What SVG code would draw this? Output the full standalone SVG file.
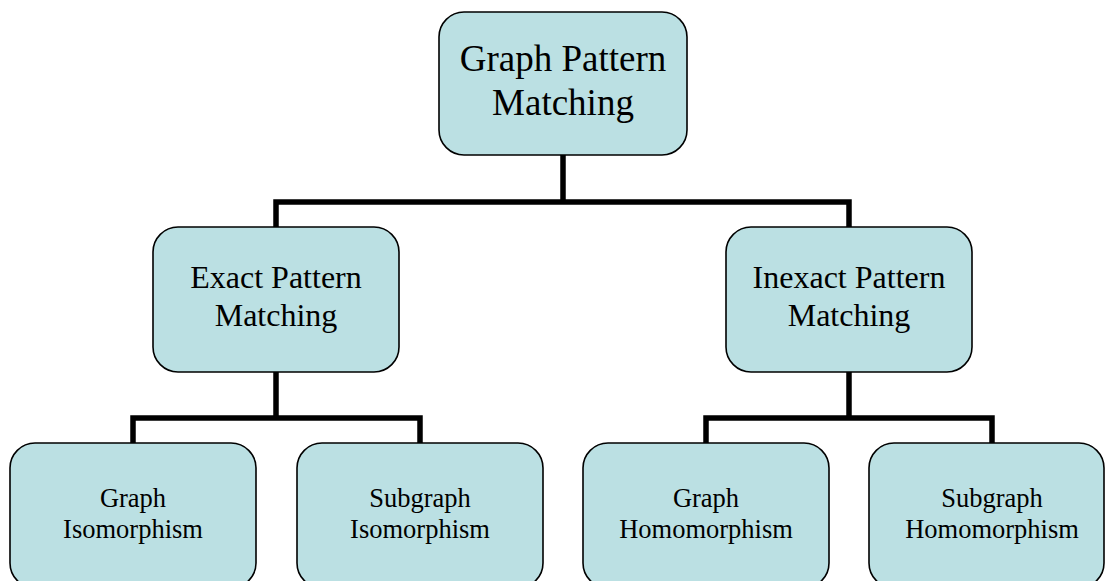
<svg xmlns="http://www.w3.org/2000/svg" width="1107" height="581" viewBox="0 0 1107 581">
<style>
.box{fill:#BBE0E3;stroke:#000;stroke-width:1.6}
.t{font-family:"Liberation Serif","Times New Roman",serif;fill:#000;text-anchor:middle}
.l1{font-size:37px}
.l2{font-size:32px}
.l3{font-size:26.5px}
.c{fill:none;stroke:#000;stroke-width:5.5;stroke-linecap:butt;stroke-linejoin:miter}
</style>
<rect width="1107" height="581" fill="#fff"/>
<g id="connectors">
<path class="c" d="M563,155 V202 M276,227 V202 H849 V227"/>
<path class="c" d="M276,372 V418 M133,443 V418 H420 V443"/>
<path class="c" d="M849,372 V418 M706,443 V418 H992 V443"/>
</g>
<g id="n-root">
<rect class="box" x="439" y="12" width="248" height="143" rx="25"/>
<text class="t l1" x="563" y="71">Graph Pattern</text>
<text class="t l1" x="563" y="115">Matching</text>
</g>
<g id="n-exact">
<rect class="box" x="153" y="227" width="246" height="145" rx="25"/>
<text class="t l2" x="276" y="288">Exact Pattern</text>
<text class="t l2" x="276" y="326">Matching</text>
</g>
<g id="n-inexact">
<rect class="box" x="726" y="227" width="246" height="145" rx="25"/>
<text class="t l2" x="849" y="288">Inexact Pattern</text>
<text class="t l2" x="849" y="326">Matching</text>
</g>
<g id="n-graph-iso">
<rect class="box" x="10" y="443" width="246" height="145" rx="25"/>
<text class="t l3" x="133" y="507">Graph</text>
<text class="t l3" x="133" y="538">Isomorphism</text>
</g>
<g id="n-subgraph-iso">
<rect class="box" x="297" y="443" width="246" height="145" rx="25"/>
<text class="t l3" x="420" y="507">Subgraph</text>
<text class="t l3" x="420" y="538">Isomorphism</text>
</g>
<g id="n-graph-homo">
<rect class="box" x="583" y="443" width="246" height="145" rx="25"/>
<text class="t l3" x="706" y="507">Graph</text>
<text class="t l3" x="706" y="538">Homomorphism</text>
</g>
<g id="n-subgraph-homo">
<rect class="box" x="869" y="443" width="235" height="145" rx="25"/>
<text class="t l3" x="992" y="507">Subgraph</text>
<text class="t l3" x="992" y="538">Homomorphism</text>
</g>
</svg>
